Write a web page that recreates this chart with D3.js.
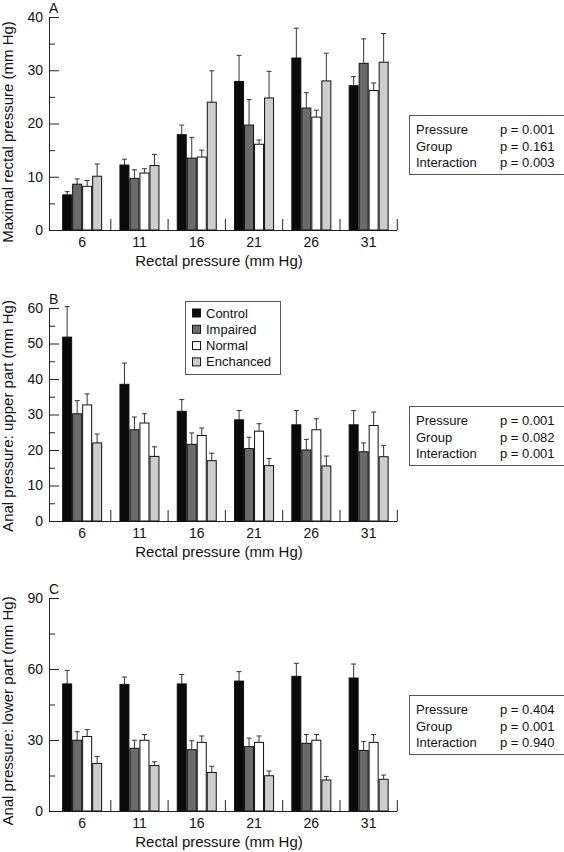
<!DOCTYPE html>
<html>
<head>
<meta charset="utf-8">
<script src="https://cdn.jsdelivr.net/npm/d3@7"></script>
<style>
  html, body { margin: 0; padding: 0; background: #fff; }
  svg { display: block; font-family: "Liberation Sans", Arial, Helvetica, sans-serif; }
  text { fill: #111; }
</style>
</head>
<body>
<svg id="chart" width="564" height="852"></svg>
<script>
// ---------- data ----------
const pressures = ["6", "11", "16", "21", "26", "31"];
const groups = ["Control", "Impaired", "Normal", "Enchanced"];
const groupColors = ["#0a0a0a", "#6b6b6b", "#ffffff", "#cdcdcd"];

// Panel A: maximal rectal pressure (mean, error) per group
const aMeans = [
  [6.6, 12.2, 17.9, 27.9, 32.3, 27.1],
  [8.6, 9.7, 13.5, 19.7, 22.9, 31.3],
  [8.2, 10.7, 13.7, 16.1, 21.2, 26.2],
  [10.1, 12.1, 24.0, 24.8, 28.0, 31.5]
];
const aErrors = [
  [0.6, 1.1, 1.8, 4.9, 5.6, 1.7],
  [1.0, 1.6, 3.9, 4.8, 2.9, 4.6],
  [1.1, 0.8, 1.3, 0.8, 1.3, 1.4],
  [2.3, 2.1, 5.9, 5.0, 5.2, 5.4]
];
// Panel B: anal pressure upper part
const bMeans = [
  [51.8, 38.5, 30.9, 28.5, 27.1, 27.1],
  [30.2, 25.7, 21.6, 20.4, 20.0, 19.5],
  [32.7, 27.6, 24.1, 25.3, 25.7, 26.9],
  [22.0, 18.2, 17.0, 15.6, 15.5, 18.1]
];
const bErrors = [
  [8.6, 6.0, 3.3, 2.6, 4.0, 4.0],
  [3.7, 3.6, 3.2, 3.2, 3.0, 2.5],
  [3.1, 2.6, 2.1, 2.1, 3.1, 3.8],
  [2.5, 2.7, 2.1, 2.0, 2.8, 3.2]
];
// Panel C: anal pressure lower part
const cMeans = [
  [53.7, 53.5, 53.7, 54.9, 56.9, 56.2],
  [29.9, 26.5, 25.9, 27.2, 28.6, 25.6],
  [31.5, 29.9, 29.0, 29.0, 29.9, 29.0],
  [20.1, 19.2, 16.3, 14.9, 13.1, 13.4]
];
const cErrors = [
  [5.7, 3.1, 4.0, 4.0, 5.5, 5.9],
  [3.6, 3.4, 3.8, 3.6, 3.7, 3.8],
  [2.9, 2.4, 2.7, 2.7, 2.4, 3.3],
  [2.9, 1.6, 2.6, 2.0, 1.5, 1.8]
];

const aYTicks = [0, 10, 20, 30, 40];
const aYMinor = [5, 15, 25, 35];
const bYTicks = [0, 10, 20, 30, 40, 50, 60];
const bYMinor = [5, 15, 25, 35, 45, 55];
const cYTicks = [0, 30, 60, 90];
const cYMinor = [15, 45, 75];

const statLabels = ["Pressure", "Group", "Interaction"];
const aStats = ["p = 0.001", "p = 0.161", "p = 0.003"];
const bStats = ["p = 0.001", "p = 0.082", "p = 0.001"];
const cStats = ["p = 0.404", "p = 0.001", "p = 0.940"];

const panels = [
  { letter: "A", means: aMeans, errors: aErrors, max: 40, ticks: aYTicks, minor: aYMinor,
    ylabel: "Maximal rectal pressure (mm Hg)", top: 17, bottom: 230, ylabelY: 132,
    stats: aStats, statTop: 115 },
  { letter: "B", means: bMeans, errors: bErrors, max: 60, ticks: bYTicks, minor: bYMinor,
    ylabel: "Anal pressure: upper part (mm Hg)", top: 308, bottom: 521, ylabelY: 416,
    stats: bStats, statTop: 406, legend: true },
  { letter: "C", means: cMeans, errors: cErrors, max: 90, ticks: cYTicks, minor: cYMinor,
    ylabel: "Anal pressure: lower part (mm Hg)", top: 598, bottom: 811, ylabelY: 711,
    stats: cStats, statTop: 695 }
];

// ---------- drawing ----------
const svg = d3.select("#chart");
const axisX = 49;
const x = d3.scaleBand().domain(pressures).range([53.5, 397.3]).paddingInner(0).paddingOuter(0);
const blockW = 40;

panels.forEach(p => {
  const g = svg.append("g");
  const y = d3.scaleLinear().domain([0, p.max]).range([p.bottom, p.top]);

  // y axis (ticks pointing inward)
  const yAxis = d3.axisLeft(y).tickValues(p.ticks).tickSize(-10).tickSizeOuter(0).tickPadding(6);
  const ya = g.append("g").attr("transform", `translate(${axisX},0)`).call(yAxis);
  ya.select(".domain").attr("stroke", "#222");
  ya.selectAll(".tick line").attr("stroke", "#222");
  ya.selectAll("text").attr("font-size", 14).attr("fill", "#111").attr("font-family", "Liberation Sans, Arial, sans-serif");
  const yMinor = d3.axisLeft(y).tickValues(p.minor).tickSize(-6).tickFormat("");
  const ym = g.append("g").attr("transform", `translate(${axisX},0)`).call(yMinor);
  ym.select(".domain").remove();
  ym.selectAll(".tick line").attr("stroke", "#222");

  // x axis baseline and group separators
  g.append("line").attr("x1", axisX).attr("x2", x.range()[1])
    .attr("y1", p.bottom + 0.5).attr("y2", p.bottom + 0.5).attr("stroke", "#222");
  g.selectAll(".sep").data(pressures).enter().append("line")
    .attr("x1", d => x(d) + x.bandwidth()).attr("x2", d => x(d) + x.bandwidth())
    .attr("y1", p.bottom).attr("y2", p.bottom - 11).attr("stroke", "#222");
  const xAxis = d3.axisBottom(x).tickSize(0).tickPadding(7);
  const xa = g.append("g").attr("transform", `translate(0,${p.bottom})`).call(xAxis);
  xa.select(".domain").remove();
  xa.selectAll("text").attr("font-size", 14).attr("fill", "#111").attr("font-family", "Liberation Sans, Arial, sans-serif");

  // bars
  groups.forEach((grp, gi) => {
    const sub = d3.scaleBand().domain(groups);
    pressures.forEach((pr, pi) => {
      const cx = x(pr) + x.bandwidth() / 2;
      sub.range([cx - blockW / 2, cx + blockW / 2]);
      const bx = sub(grp);
      const bw = sub.bandwidth();
      const m = p.means[gi][pi];
      const e = p.errors[gi][pi];
      const mid = bx + bw / 2;
      // error bar (upward only)
      g.append("line").attr("x1", mid).attr("x2", mid)
        .attr("y1", y(m)).attr("y2", y(m + e)).attr("stroke", "#333").attr("stroke-width", 1);
      g.append("line").attr("x1", mid - 2.5).attr("x2", mid + 2.5)
        .attr("y1", y(m + e)).attr("y2", y(m + e)).attr("stroke", "#333").attr("stroke-width", 1);
      g.append("rect").attr("x", bx + 0.5).attr("y", y(m))
        .attr("width", bw - 1).attr("height", y(0) - y(m))
        .attr("fill", groupColors[gi]).attr("stroke", "#111").attr("stroke-width", 1);
    });
  });

  // panel letter
  g.append("text").attr("x", 49).attr("y", p.top - 4).attr("font-size", 14).text(p.letter);

  // x title
  g.append("text").attr("x", 219).attr("y", p.bottom + 36).attr("text-anchor", "middle")
    .attr("font-size", 15).text("Rectal pressure (mm Hg)");

  // y title
  g.append("text").attr("transform", `translate(8,${p.ylabelY}) rotate(-90)`)
    .attr("text-anchor", "middle").attr("dy", "0.35em").attr("font-size", 15).text(p.ylabel);

  // stats box
  const sb = g.append("g").attr("transform", `translate(409,${p.statTop})`);
  sb.append("rect").attr("x", 0.5).attr("y", 0.5).attr("width", 160).attr("height", 59)
    .attr("fill", "#fff").attr("stroke", "#555").attr("stroke-width", 1);
  statLabels.forEach((lab, i) => {
    sb.append("text").attr("x", 7).attr("y", 14.5 + i * 16.5).attr("dy", "0.35em")
      .attr("font-size", 13).text(lab);
    sb.append("text").attr("x", 91).attr("y", 14.5 + i * 16.5).attr("dy", "0.35em")
      .attr("font-size", 13).text(p.stats[i]);
  });

  // legend
  if (p.legend) {
    const lg = g.append("g").attr("transform", "translate(185,301)");
    lg.append("rect").attr("x", 0.5).attr("y", 0.5).attr("width", 95).attr("height", 73)
      .attr("fill", "#fff").attr("stroke", "#555");
    groups.forEach((grp, gi) => {
      const cy = 12 + gi * 16.3;
      lg.append("rect").attr("x", 7.5).attr("y", cy - 4).attr("width", 8).attr("height", 8)
        .attr("fill", groupColors[gi]).attr("stroke", "#111");
      lg.append("text").attr("x", 21).attr("y", cy).attr("dy", "0.35em").attr("font-size", 13).text(grp);
    });
  }
});
</script>
</body>
</html>
